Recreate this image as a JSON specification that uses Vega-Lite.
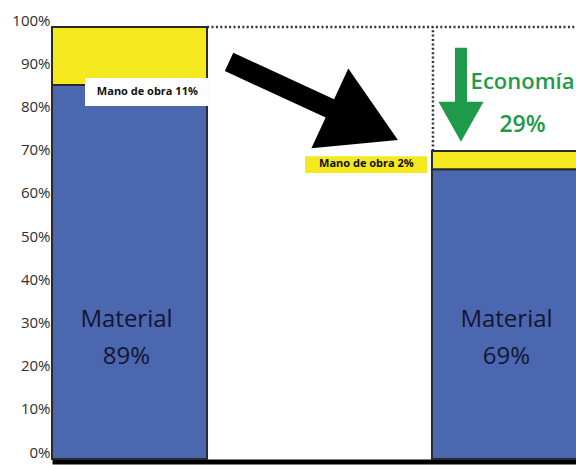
{
  "$schema": "https://vega.github.io/schema/vega-lite/v6.json",
  "width": 524,
  "height": 432,
  "autosize": {"type": "none"},
  "padding": {"left": 52, "top": 27, "right": 0, "bottom": 6},
  "background": "white",
  "config": {"view": {"stroke": null}, "font": "Open Sans"},
  "data": {"values": [{}]},
  "datasets": {
    "bars": [
      {"cat": "Antes", "comp": "Material", "value": 86.6},
      {"cat": "Antes", "comp": "Mano de obra", "value": 13.4},
      {"cat": "Después", "comp": "Material", "value": 67.1},
      {"cat": "Después", "comp": "Mano de obra", "value": 4.2}
    ],
    "labels": [
      {"cat": "Antes", "label": "Material\n89%"},
      {"cat": "Después", "label": "Material\n69%"}
    ]
  },
  "resolve": {"scale": {"x": "independent"}},
  "layer": [
    {
      "mark": {"type": "rule", "stroke": "#333333", "strokeWidth": 2.5, "strokeDash": [2, 2.4]},
      "encoding": {
        "x": {"datum": 29.6, "type": "quantitative", "scale": {"domain": [0, 100]}, "axis": null},
        "x2": {"datum": 100},
        "y": {"datum": 100, "type": "quantitative"}
      }
    },
    {
      "mark": {"type": "rule", "stroke": "#333333", "strokeWidth": 2.5, "strokeDash": [2, 2.4]},
      "encoding": {
        "x": {"datum": 72.7, "type": "quantitative", "scale": {"domain": [0, 100]}, "axis": null},
        "y": {"datum": 71.3, "type": "quantitative"},
        "y2": {"datum": 100}
      }
    },
    {
      "data": {"name": "bars"},
      "mark": {"type": "bar", "stroke": "#2a2a2a", "strokeWidth": 2},
      "encoding": {
        "x": {
          "field": "cat", "type": "nominal",
          "scale": {"type": "band", "domain": ["Antes", "Después"], "range": [0, 535], "paddingInner": 0.592, "paddingOuter": 0},
          "axis": {"title": null, "labels": false, "ticks": false, "domainColor": "#000000", "domainWidth": 5, "offset": 2.5, "grid": false}
        },
        "y": {
          "field": "value", "type": "quantitative", "stack": "zero",
          "scale": {"domain": [0, 100], "nice": false},
          "axis": {"title": null, "values": [0, 10, 20, 30, 40, 50, 60, 70, 80, 90, 100], "labelExpr": "datum.value + '%'", "grid": false, "ticks": false, "domain": false, "labelPadding": 2, "labelOffset": -7, "labelFontSize": 15, "labelColor": "#2e2e2e", "labelFont": "Open Sans"}
        },
        "color": {"field": "comp", "type": "nominal", "scale": {"domain": ["Material", "Mano de obra"], "range": ["#4a67b0", "#f4e81e"]}, "legend": null},
        "order": {"field": "comp", "sort": "descending"}
      }
    },
    {
      "data": {"name": "labels"},
      "mark": {"type": "text", "lineBreak": "\n", "lineHeight": 37, "fontSize": 24, "fontWeight": 500, "color": "#151530", "baseline": "middle", "align": "center", "dx": -3},
      "encoding": {
        "x": {"field": "cat", "type": "nominal", "scale": {"type": "band", "domain": ["Antes", "Después"], "range": [0, 535], "paddingInner": 0.592, "paddingOuter": 0}, "axis": null, "bandPosition": 0.5},
        "y": {"datum": 32.2, "type": "quantitative"},
        "text": {"field": "label"}
      }
    },
    {
      "mark": {"type": "rect", "color": "#ffffff"},
      "encoding": {
        "x": {"datum": 6.3, "type": "quantitative", "scale": {"domain": [0, 100]}, "axis": null},
        "x2": {"datum": 29.8},
        "y": {"datum": 81.7, "type": "quantitative"},
        "y2": {"datum": 88.2}
      }
    },
    {
      "mark": {"type": "text", "text": "Mano de obra 11%", "fontSize": 11, "fontWeight": "bold", "color": "#111111", "align": "center", "baseline": "middle"},
      "encoding": {
        "x": {"datum": 18.2, "type": "quantitative", "scale": {"domain": [0, 100]}, "axis": null},
        "y": {"datum": 85.0, "type": "quantitative"}
      }
    },
    {
      "mark": {"type": "rect", "color": "#f4e81e"},
      "encoding": {
        "x": {"datum": 48.3, "type": "quantitative", "scale": {"domain": [0, 100]}, "axis": null},
        "x2": {"datum": 71.6},
        "y": {"datum": 66.2, "type": "quantitative"},
        "y2": {"datum": 70.1}
      }
    },
    {
      "mark": {"type": "text", "text": "Mano de obra 2%", "fontSize": 11, "fontWeight": "bold", "color": "#111111", "align": "center", "baseline": "middle"},
      "encoding": {
        "x": {"datum": 60.0, "type": "quantitative", "scale": {"domain": [0, 100]}, "axis": null},
        "y": {"datum": 68.2, "type": "quantitative"}
      }
    },
    {
      "mark": {"type": "point", "filled": true, "color": "#000000", "opacity": 1, "strokeWidth": 0, "size": 34596, "angle": 24.8, "shape": "M-1,-0.108 L0.194,-0.108 L0.194,-0.473 L1,0 L0.194,0.473 L0.194,0.108 L-1,0.108 Z"},
      "encoding": {
        "x": {"datum": 49.9, "type": "quantitative", "scale": {"domain": [0, 100]}, "axis": null},
        "y": {"datum": 82.9, "type": "quantitative"}
      }
    },
    {
      "mark": {"type": "point", "filled": true, "color": "#1f9a4a", "opacity": 1, "strokeWidth": 0, "size": 8836, "angle": 90, "shape": "M-1,-0.128 L0.15,-0.128 L0.15,-0.48 L1,0 L0.15,0.48 L0.15,0.128 L-1,0.128 Z"},
      "encoding": {
        "x": {"datum": 78.05, "type": "quantitative", "scale": {"domain": [0, 100]}, "axis": null},
        "y": {"datum": 84.3, "type": "quantitative"}
      }
    },
    {
      "mark": {"type": "text", "text": "Economía", "fontSize": 22, "fontWeight": 600, "color": "#1f9a4a", "align": "center", "baseline": "middle"},
      "encoding": {
        "x": {"datum": 89.8, "type": "quantitative", "scale": {"domain": [0, 100]}, "axis": null},
        "y": {"datum": 87.3, "type": "quantitative"}
      }
    },
    {
      "mark": {"type": "text", "text": "29%", "fontSize": 23, "fontWeight": 600, "color": "#1f9a4a", "align": "center", "baseline": "middle"},
      "encoding": {
        "x": {"datum": 89.8, "type": "quantitative", "scale": {"domain": [0, 100]}, "axis": null},
        "y": {"datum": 77.3, "type": "quantitative"}
      }
    }
  ]
}
